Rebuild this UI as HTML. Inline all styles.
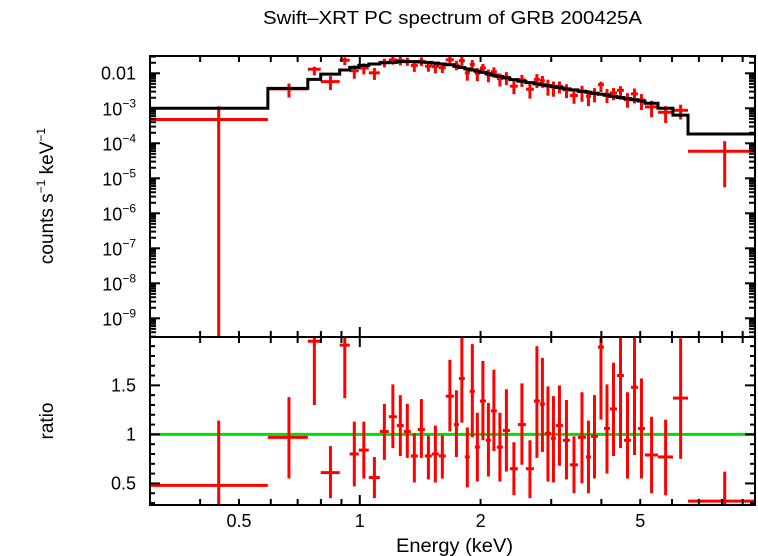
<!DOCTYPE html>
<html><head><meta charset="utf-8"><style>
html,body{margin:0;padding:0;background:#fff;}
svg{display:block;font-family:"Liberation Sans",sans-serif;}
</style></head><body>
<svg id="chart" width="758" height="556" viewBox="0 0 758 556" xmlns="http://www.w3.org/2000/svg">
<text x="263" y="24" font-size="18" textLength="379" lengthAdjust="spacingAndGlyphs">Swift–XRT PC spectrum of GRB 200425A</text>
<text x="396" y="552" font-size="19" textLength="117" lengthAdjust="spacingAndGlyphs">Energy (keV)</text>
<text transform="translate(53,196) rotate(-90)" font-size="19" text-anchor="middle">counts s<tspan dy="-8" font-size="12">−1</tspan><tspan dy="8"> keV</tspan><tspan dy="-8" font-size="12">−1</tspan></text>
<text transform="translate(53,421) rotate(-90)" font-size="19" text-anchor="middle">ratio</text>
<g id="g"></g>
</svg>
<script>
const binEdges=[0.300,0.590,0.742,0.799,0.891,0.944,0.994,1.053,1.122,1.181,1.237,1.287,1.340,1.395,1.453,1.512,1.574,1.638,1.716,1.766,1.827,1.880,1.935,1.992,2.062,2.122,2.196,2.273,2.366,2.477,2.594,2.716,2.811,2.893,2.995,3.082,3.208,3.340,3.497,3.661,3.768,3.922,4.060,4.202,4.375,4.554,4.741,4.934,5.136,5.536,6.032,6.577,9.66];
const modelValues=[1.0e-3,3.7e-3,6.7e-3,9.5e-3,1.24e-2,1.48e-2,1.69e-2,1.84e-2,2.0e-2,2.05e-2,2.15e-2,2.15e-2,2.15e-2,2.1e-2,2.05e-2,1.95e-2,1.85e-2,1.75e-2,1.58e-2,1.46e-2,1.34e-2,1.24e-2,1.15e-2,1.06e-2,9.7e-3,8.9e-3,8.1e-3,7.4e-3,6.6e-3,5.9e-3,5.4e-3,5.0e-3,4.7e-3,4.4e-3,4.2e-3,3.9e-3,3.6e-3,3.36e-3,3.08e-3,2.87e-3,2.69e-3,2.51e-3,2.35e-3,2.19e-3,2.04e-3,1.89e-3,1.75e-3,1.62e-3,1.39e-3,1.0e-3,6.4e-4,1.85e-4];
const ratioValues=[0.48,0.97,1.95,0.61,1.91,0.80,0.84,0.56,1.03,1.18,1.09,1.03,0.78,1.05,0.78,0.80,0.78,1.39,1.10,1.57,0.77,1.44,0.87,1.34,0.94,1.24,0.87,1.04,0.65,1.10,0.65,1.34,1.31,1.01,0.96,1.09,0.94,0.69,0.97,0.77,0.98,1.89,1.06,1.26,1.60,0.94,1.48,1.06,0.79,0.77,1.37,0.32];
const ratioLow=[-0.2,0.55,1.30,0.35,1.37,0.47,0.55,0.35,0.74,0.86,0.78,0.76,0.51,0.76,0.54,0.51,0.55,1.03,0.77,1.12,0.46,0.97,0.52,0.94,0.57,0.83,0.52,0.62,0.38,0.69,0.35,0.76,0.82,0.52,0.51,0.68,0.54,0.40,0.50,0.40,0.55,1.15,0.60,0.78,0.86,0.55,0.79,0.55,0.40,0.38,0.75,0.03];
const ratioHigh=[1.14,1.38,2.3,0.88,2.3,1.13,1.13,0.77,1.31,1.51,1.40,1.31,1.01,1.36,0.99,1.09,0.99,1.76,1.45,2.1,1.07,1.92,1.22,1.75,1.32,1.66,1.22,1.46,0.92,1.52,0.94,1.90,1.78,1.49,1.39,1.50,1.35,0.98,1.43,1.14,1.40,2.3,1.51,1.73,2.1,1.43,2.1,1.57,1.18,1.15,1.98,0.62];
const xTickLabels=["0.5","1","2","5"];
const xTickValues=[0.5,1,2,5];
const yTopLabelExps=[-3,-4,-5,-6,-7,-8,-9];
const yRatioTicks=[0.5,1,1.5];
const yRatioLabels=["0.5","1","1.5"];

const L=150,R=755,T=56,M=337,B=505;
const xmin=0.3,xmax=9.66;
const X=e=>L+(Math.log10(e)-Math.log10(xmin))/(Math.log10(xmax)-Math.log10(xmin))*(R-L);
const ltop=-1.506,lbot=-9.534;
const Yt=v=>T+(ltop-Math.log10(v))/(ltop-lbot)*(M-T);
const rmax=1.993,rmin=0.28;
const Yr=v=>M+(rmax-v)/(rmax-rmin)*(B-M);
const g=document.getElementById('g');
const NS="http://www.w3.org/2000/svg";
function mk(tag,at,parent){const e=document.createElementNS(NS,tag);for(const k in at)e.setAttribute(k,at[k]);(parent||g).appendChild(e);return e;}
const clampT=y=>Math.max(T,Math.min(M,y));
const clampR=y=>Math.max(M,Math.min(B,y));

const defs=mk('defs',{});
const c1=mk('clipPath',{id:'ct'},defs);mk('rect',{x:L,y:T,width:R-L,height:M-T},c1);
const c2=mk('clipPath',{id:'cr'},defs);mk('rect',{x:L,y:M,width:R-L,height:B-M},c2);
const gt=mk('g',{'clip-path':'url(#ct)'});


const gr=mk('g',{'clip-path':'url(#cr)'});



const gl=mk('line',{x1:L,x2:R,y1:Yr(1),y2:Yr(1),stroke:'#00e000','stroke-width':3},gr);



for(let i=0;i<ratioValues.length;i++){
  const lo=binEdges[i],hi=binEdges[i+1],c=(lo+hi)/2,m=modelValues[i];
  const x1=X(lo),x2=X(hi),xc=X(c);
  const cy=Yt(ratioValues[i]*m);
  const yl=ratioLow[i]>0?clampT(Yt(ratioLow[i]*m)):M;
  const yh=clampT(Yt(ratioHigh[i]*m));
  const pt=mk('g',{stroke:'#ff0000','stroke-width':3},gt);
  
  
  mk('line',{x1:x1,x2:x2,y1:cy,y2:cy},pt);
  mk('line',{x1:xc,x2:xc,y1:yl,y2:yh},pt);
  const rp=mk('g',{stroke:'#ff0000','stroke-width':3},gr);
  
  
  const ry=Yr(ratioValues[i]);
  mk('line',{x1:x1,x2:x2,y1:ry,y2:ry},rp);
  mk('line',{x1:xc,x2:xc,y1:clampR(Yr(ratioLow[i])),y2:clampR(Yr(ratioHigh[i]))},rp);
}
let d='';
for(let i=0;i<modelValues.length;i++){const y=Yt(modelValues[i]);d+=(i?'L':'M')+X(binEdges[i])+','+y+'L'+X(binEdges[i+1])+','+y;}
const mp=mk('path',{d:d,fill:'none',stroke:'#000','stroke-width':3},gt);



const f1=mk('rect',{x:L,y:T,width:R-L,height:M-T,fill:'none',stroke:'#000','stroke-width':2});


const f2=mk('rect',{x:L,y:M,width:R-L,height:B-M,fill:'none',stroke:'#000','stroke-width':2});



const tg=mk('g',{stroke:'#000','stroke-width':2});


for(let dec=-1;dec<=0;dec++)for(let k=1;k<10;k++){
  const e=k*Math.pow(10,dec); if(e<xmin||e>xmax)continue;
  const x=X(e),len=(k===1?10:6);
  [[T,1],[M,-1],[M,1],[B,-1]].forEach(([y,s])=>mk('line',{x1:x,x2:x,y1:y,y2:y+s*len},tg));
}
for(let dec=-10;dec<=-1;dec++)for(let k=1;k<10;k++){
  const v=k*Math.pow(10,dec);const y=Yt(v);if(y<T||y>M)continue;
  const len=k===1?10:6;
  mk('line',{x1:L,x2:L+len,y1:y,y2:y},tg);mk('line',{x1:R,x2:R-len,y1:y,y2:y},tg);
}
for(let v=0.3;v<=1.95;v+=0.1){const y=Yr(v);const maj=Math.abs(v*2-Math.round(v*2))<0.01;const len=maj?10:5;
  mk('line',{x1:L,x2:L+len,y1:y,y2:y},tg);mk('line',{x1:R,x2:R-len,y1:y,y2:y},tg);}

xTickValues.forEach((v,i)=>{const t=mk('text',{x:X(v),y:527,'font-size':18,'text-anchor':'middle'});t.textContent=xTickLabels[i];
  
  });
const t0=mk('text',{x:136,y:Yt(0.01)+6,'font-size':18,'text-anchor':'end'});t0.textContent='0.01';


yTopLabelExps.forEach(ex=>{const t=mk('text',{x:136,y:Yt(Math.pow(10,ex))+7,'font-size':18,'text-anchor':'end'});
  t.innerHTML='10<tspan dy="-8" font-size="12">−'+(-ex)+'</tspan>';
  
  });
yRatioTicks.forEach((v,i)=>{const t=mk('text',{x:136,y:Yr(v)+6,'font-size':18,'text-anchor':'end'});t.textContent=yRatioLabels[i];
  
  });
</script>
</body></html>
